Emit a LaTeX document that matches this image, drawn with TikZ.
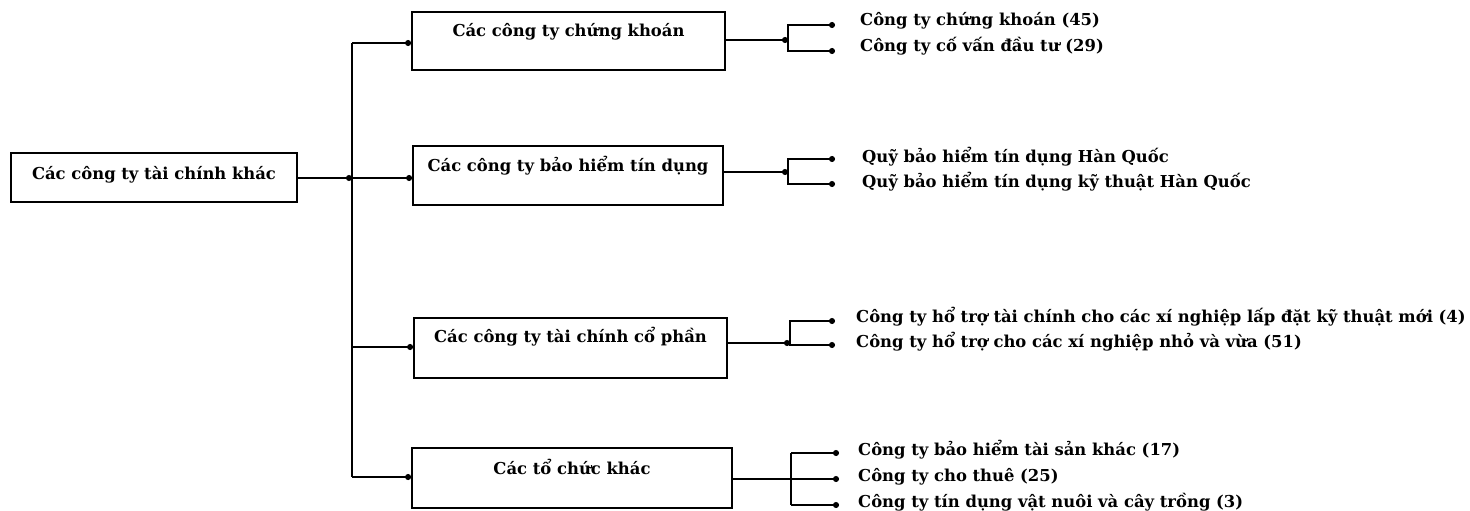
\documentclass[tikz,border=0pt]{standalone}
\usepackage{fontspec}
\setmainfont{DejaVu Serif}
\usetikzlibrary{arrows.meta}
\tikzset{
  box/.style={draw, line width=1.8pt, inner sep=0pt},
  title/.style={font=\bfseries\fontsize{16.4}{18}\selectfont, inner sep=0pt, anchor=center},
  leaf/.style={font=\bfseries\fontsize{16.4}{18}\selectfont, inner sep=0pt, anchor=west},
  link/.style={line width=1.4pt, -{Circle[length=6pt]}},
  bracket/.style={line width=1.4pt, {Circle[length=6pt]}-{Circle[length=6pt]}},
  plain/.style={line width=1.4pt}
}
\begin{document}
\begin{tikzpicture}[x=1pt,y=-1pt]
\useasboundingbox (0,0) rectangle (1470,511);

% root and second-level boxes
\node[box, minimum width=286pt, minimum height=49pt] (root) at (154,177.5) {};
\node[title] (rootT) at (154,175) {Các công ty tài chính khác};

\node[box, minimum width=313pt, minimum height=58pt] (b1) at (568.5,41) {};
\node[title] (b1T) at (568.5,32) {Các công ty chứng khoán};

\node[box, minimum width=310pt, minimum height=59pt] (b2) at (568,175.5) {};
\node[title] (b2T) at (568,166) {Các công ty bảo hiểm tín dụng};

\node[box, minimum width=313pt, minimum height=60pt] (b3) at (570.5,348) {};
\node[title] (b3T) at (570.5,337) {Các công ty tài chính cổ phần};

\node[box, minimum width=320pt, minimum height=60pt] (b4) at (572,478) {};
\node[title] (b4T) at (572,467) {Các tổ chức khác};

% trunk
\coordinate (tTop) at (352,43);
\coordinate (tRoot) at (352,178);
\coordinate (t3) at (352,347);
\coordinate (tBot) at (352,477);
\draw[plain] (tTop) -- (tBot);
\draw[link] (root.east |- tRoot) -- (tRoot);
\draw[link] (tRoot) -- (b2.west |- tRoot);
\draw[link] (tTop) -- (b1.west |- tTop);
\draw[link] (t3) -- (b3.west |- t3);
\draw[link] (tBot) -- (b4.west |- tBot);

% group 1
\coordinate (g1) at (788,40);
\coordinate (g1a) at (788,25);
\coordinate (g1b) at (788,51);
\coordinate (e1a) at (835,25);
\coordinate (e1b) at (835,51);
\draw[link] (b1.east |- g1) -- (g1);
\draw[bracket] (e1a) -- (g1a) -- (g1b) -- (e1b);
\node[leaf] (l1a) at (860,21) {Công ty chứng khoán (45)};
\node[leaf] (l1b) at (860,46) {Công ty cố vấn đầu tư (29)};

% group 2
\coordinate (g2) at (788,172);
\coordinate (g2a) at (788,159);
\coordinate (g2b) at (788,184);
\coordinate (e2a) at (835,159);
\coordinate (e2b) at (835,184);
\draw[link] (b2.east |- g2) -- (g2);
\draw[bracket] (e2a) -- (g2a) -- (g2b) -- (e2b);
\node[leaf] (l2a) at (862,157) {Quỹ bảo hiểm tín dụng Hàn Quốc};
\node[leaf] (l2b) at (862,182) {Quỹ bảo hiểm tín dụng kỹ thuật Hàn Quốc};

% group 3
\coordinate (g3) at (790,343);
\coordinate (g3a) at (790,321);
\coordinate (g3b) at (790,345);
\coordinate (e3a) at (835,321);
\coordinate (e3b) at (835,345);
\draw[link] (b3.east |- g3) -- (g3);
\draw[bracket] (e3a) -- (g3a) -- (g3b) -- (e3b);
\node[leaf] (l3a) at (856,317) {Công ty hổ trợ tài chính cho các xí nghiệp lấp đặt kỹ thuật mới (4)};
\node[leaf] (l3b) at (856,342) {Công ty hổ trợ cho các xí nghiệp nhỏ và vừa (51)};

% group 4
\coordinate (g4) at (791,479);
\coordinate (g4a) at (791,453);
\coordinate (g4b) at (791,505);
\coordinate (e4a) at (839,453);
\coordinate (e4b) at (839,479);
\coordinate (e4c) at (839,505);
\draw[plain] (g4a) -- (g4b);
\draw[link] (b4.east |- g4) -- (e4b);
\draw[link] (g4a) -- (e4a);
\draw[link] (g4b) -- (e4c);
\node[leaf] (l4a) at (858,450) {Công ty bảo hiểm tài sản khác (17)};
\node[leaf] (l4b) at (858,477) {Công ty cho thuê (25)};
\node[leaf] (l4c) at (858,502) {Công ty tín dụng vật nuôi và cây trồng (3)};
\end{tikzpicture}
\end{document}
